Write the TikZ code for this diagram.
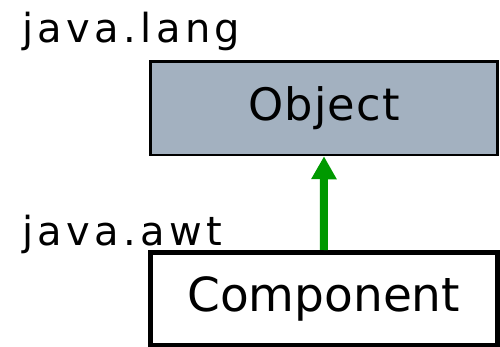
\documentclass[tikz,border=0pt]{standalone}
\usepackage{fontspec}
\setmainfont{DejaVu Sans}
\newfontfamily\pkgfont[LetterSpace=11]{DejaVu Sans}
\newfontfamily\clsfont[LetterSpace=2.5]{DejaVu Sans}
\usetikzlibrary{arrows.meta}
\definecolor{objfill}{RGB}{163,177,192}
\definecolor{inhgreen}{RGB}{0,153,0}
\tikzset{
  pkglabel/.style={anchor=base west, inner sep=0pt, font=\pkgfont\fontsize{40}{44}\selectfont},
  classbox/.style={draw=black, rectangle, inner sep=0pt, minimum width=347pt},
  inherit/.style={draw=inhgreen, line width=8pt, -{Triangle[width=24pt,length=23pt]}}
}
\begin{document}
\begin{tikzpicture}[x=1pt,y=-1pt]
  \useasboundingbox (0,0) rectangle (500,347);
  % package labels
  \node[pkglabel] (lang) at (22,43) {java.lang};
  \node[pkglabel] (awt) at (22,245) {java.awt};
  % classes
  \node[classbox, fill=objfill, line width=2.5pt, minimum height=93.5pt,
        font=\clsfont\fontsize{44.7}{48}\selectfont] (obj) at (324,108.25) {Object};
  \node[classbox, fill=white, line width=5pt, minimum height=93pt,
        font=\fontsize{47}{50}\selectfont] (comp) at (323.75,299) {Component};
  % generalization arrow
  \draw[inherit] (comp.north) -- (obj.south);
\end{tikzpicture}
\end{document}
